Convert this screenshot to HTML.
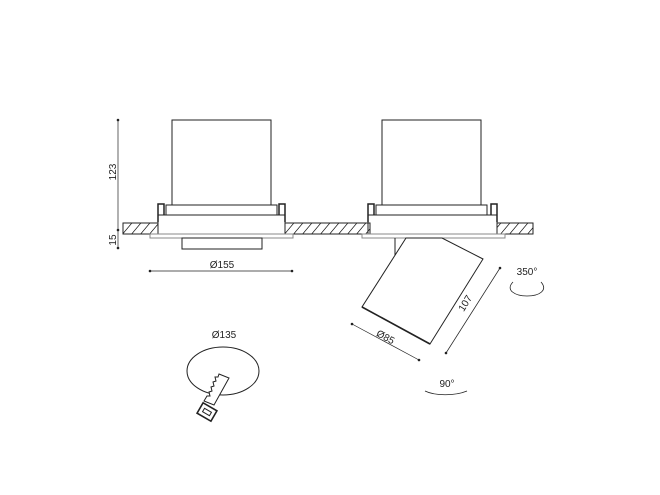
<!DOCTYPE html>
<html><head><style>html,body{margin:0;padding:0;background:#fff}svg{display:block}</style></head><body>
<svg width="660" height="495" viewBox="0 0 660 495" xmlns="http://www.w3.org/2000/svg" font-family="Liberation Sans, sans-serif">
<defs>
<pattern id="h" width="9" height="12" patternUnits="userSpaceOnUse" patternTransform="skewX(-40)">
<line x1="4" y1="0" x2="4" y2="12" stroke="#222" stroke-width="1"/></pattern>
</defs>
<g stroke="#222" stroke-width="1" fill="none">
<rect x="123" y="223" width="35" height="11" fill="url(#h)"/>
<rect x="285" y="223" width="85" height="11" fill="url(#h)"/>
<rect x="497" y="223" width="36" height="11" fill="url(#h)"/>
<rect x="172" y="120" width="99" height="85"/>
<rect x="166" y="205" width="111" height="10"/>
<rect x="158" y="215" width="127" height="19"/>
<rect x="150" y="234" width="143" height="4" stroke="#888"/>
<rect x="182" y="238" width="80" height="11"/>
<path d="M158 222 V204 H164 V215 M285 222 V204 H279 V215" stroke-width="1.5"/>
<rect x="382" y="120" width="99" height="85"/>
<rect x="376" y="205" width="111" height="10"/>
<rect x="368" y="215" width="129" height="19"/>
<rect x="362" y="234" width="143" height="4" stroke="#888"/>
<path d="M368 222 V204 H374 V215 M497 222 V204 H491 V215" stroke-width="1.5"/>
<line x1="395" y1="238" x2="395" y2="255"/>
<polygon points="406,238 362,307 430,344 483,259 442,238" fill="#fff"/>
<line x1="362" y1="307" x2="430" y2="344" stroke-width="1.6"/>
<line x1="118" y1="120" x2="118" y2="248" stroke-width="0.7"/>
<line x1="150" y1="271" x2="292" y2="271" stroke-width="0.7"/>
<line x1="446" y1="353" x2="500" y2="268" stroke-width="0.7"/>
<line x1="352" y1="324" x2="419" y2="360" stroke-width="0.7"/>
<path d="M513 282 C505 290 515 296 527 296 C540 296 548 290 541 282" stroke-width="0.8"/>
<path d="M425 391 C435 396 455 396 467 391" stroke-width="0.8"/>
<ellipse cx="223" cy="371" rx="36" ry="24"/>
<path d="M219 374 L229 378 L214 405 L204 401 L207 396 L210 396 L209 392 L212 391 L211 387 L214 386 L213 382 L216 381 L215 377 L218 377 Z" fill="#fff"/>
<g transform="rotate(30 207 412)">
<rect x="199" y="406" width="16" height="12" fill="#fff" stroke-width="1.6"/>
<rect x="203" y="410" width="8" height="4"/>
</g>
</g>
<g fill="#222">
<circle cx="118" cy="120" r="1.3"/><circle cx="118" cy="230" r="1.3"/><circle cx="118" cy="248" r="1.3"/>
<circle cx="150" cy="271" r="1.3"/><circle cx="292" cy="271" r="1.3"/>
<circle cx="446" cy="353" r="1.3"/><circle cx="500" cy="268" r="1.3"/>
<circle cx="352" cy="324" r="1.3"/><circle cx="419" cy="360" r="1.3"/>
</g>
<g font-size="10" fill="#222">
<text transform="translate(116,172) rotate(-90)" text-anchor="middle">123</text>
<text transform="translate(116,240) rotate(-90)" text-anchor="middle">15</text>
<text x="222" y="268" text-anchor="middle">Ø155</text>
<text x="224" y="338" text-anchor="middle">Ø135</text>
<text transform="translate(384,340) rotate(28)" text-anchor="middle">Ø85</text>
<text transform="translate(468,305) rotate(-58)" text-anchor="middle">107</text>
<text x="527" y="275" text-anchor="middle">350°</text>
<text x="447" y="387" text-anchor="middle">90°</text>
</g>
</svg>
</body></html>
